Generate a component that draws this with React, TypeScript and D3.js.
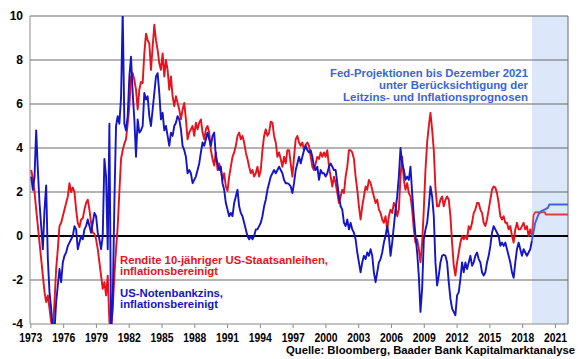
import React from "react";
import * as d3 from "d3";

const W = 580;
const H = 359;

// Monthly-ish readings (regular spacing) from early 1973 to autumn 2018
const histStart = 1973.03;
const histEnd = 2018.85;

// Rendite 10-jähriger US-Staatsanleihen, inflationsbereinigt (%)
const realBondYield = [
  3.0, 2.6, 2.0, 1.2, 0.45, -0.3, -1.05, -1.8, -2.55, -3.0,
  -2.7, -3.3, -3.9, -4.3, -3.0, -1.5, -0.6, 0.45, 0.6, 0.9,
  1.2, 1.5, 1.8, 2.4, 2.0, 2.2, 2.0, 1.2, 0.6, 0.4,
  0.75, 0.8, 1.2, 1.5, 1.65, 1.2, 0.6, 0.15, 0.1, -0.15,
  -0.6, -1.2, -1.8, -2.4, -2.1, -2.7, -1.8, -3.9, -4.3, -3.3,
  -1.8, -0.6, 0.45, 2.0, 3.5, 3.9, 4.2, 4.4, 5.1, 5.9,
  7.25, 7.4, 7.1, 6.65, 5.75, 6.65, 7.0, 6.95, 8.3, 9.2,
  8.9, 8.75, 7.55, 8.6, 9.6, 8.9, 8.45, 7.85, 7.55, 8.3,
  7.25,
  8.0, 7.55, 6.65, 7.25, 6.35, 5.9, 6.35, 6.05, 5.75, 5.3,
  5.75, 6.05, 5.3, 4.4, 4.7, 4.85, 5.0, 4.55, 5.15, 4.85,
  5.15, 5.3, 4.7, 4.4, 4.85, 5.0, 4.7, 3.9, 3.5, 3.2,
  3.8, 3.0, 3.3, 3.0, 2.55, 2.85, 2.25, 2.05, 2.7, 3.15,
  3.6, 3.8, 4.1, 4.55, 4.7, 4.4, 4.55, 4.25, 3.8, 3.5,
  3.15, 2.85, 3.0, 2.7, 2.85, 3.15, 2.7, 3.0, 3.9, 4.55,
  4.85, 4.55, 4.7, 5.2, 5.15, 4.55, 4.25, 3.6, 3.8, 3.5,
  3.15, 3.6, 3.3, 3.9, 3.9, 3.3, 2.7, 3.6, 4.4, 4.55,
  4.25,
  4.1, 4.25, 3.9, 4.15, 4.25, 4.1, 3.6, 3.15, 3.0, 3.3,
  3.6, 3.5, 3.8, 3.6, 3.8, 3.6, 3.9, 3.15, 2.7, 2.25,
  2.7, 2.4, 1.95, 1.5, 1.8, 2.1, 1.95, 2.7, 3.15, 3.9,
  3.9, 3.8, 3.5, 2.7, 2.1, 1.35, 0.75, 1.35, 1.8, 2.25,
  2.1, 2.55, 2.4, 2.1, 1.8, 1.5, 1.65, 1.2, 1.05, 0.75,
  0.6, 0.9, 0.3, 0.9, 1.2, 1.05, 1.5, 1.35, 0.9, 1.2,
  2.7, 3.6, 2.55, 2.1, 2.4, 1.95, 1.8, 1.2, 0.3, -0.3,
  -0.15, -0.6, -1.2, -0.3, 1.2, 3.0, 4.25, 5.0, 5.6, 4.85,
  3.9,
  2.2, 1.35, 1.35, 1.65, 1.8, 1.35, 1.65, 1.8, 1.65, 0.9,
  -0.3, -1.35, -1.8, -1.2, -0.75, -0.3, 0, -0.15, 0, -0.15,
  0.45, 0.3, 0.6, 1.05, 1.2, 1.5, 1.5, 1.2, 1.05, 0.6,
  0.45, 0.75, 1.2, 1.65, 2.1, 2.25, 2.2, 1.95, 1.5, 0.9,
  0.75, 0.9, 0.6, 0.6, 0.3, 0.45, 0, -0.3, 0.3, 0.6,
  0.3, 0.3, 0.45, 0.6, 0.3, 0.45, 0, 0.3, 0,
];

// US-Notenbankzins, inflationsbereinigt (%)
const realFedRate = [
  2.7, 2.1, 2.7, 4.8, 3.0, 1.5, 0.45, -0.6, 1.2, 2.3,
  -1.05, -2.55, -3.3, -4.3, -4.3, -3.0, -2.25, -1.5, -2.1, -1.2,
  -0.9, -0.75, -0.45, -0.3, -0.15, 0, 0.45, 0.3, -0.6, -0.3,
  0, -0.15, 0.3, 0.45, 0.75, 0.45, 0.15, 0.6, 1.05, 0.9,
  0.15, -0.15, -0.6, 0, 3.5, 2.7, -0.6, 5.1, -4.3, -3.0,
  1.5, 5.0, 5.45, 5.1, 6.3, 10.2, 5.1, 4.8, 5.45, 7.25,
  8.15, 6.5, 5.3, 3.6, 5.3, 4.7, 4.8, 5.0, 6.5, 6.2,
  6.35, 5.45, 5.0, 5.75, 6.5, 7.25, 7.4, 6.5, 5.3, 5.6,
  4.8,
  5.0, 4.55, 4.1, 4.7, 4.55, 5.0, 5.15, 5.45, 5.3, 4.85,
  4.1, 3.9, 3.6, 2.85, 3.0, 2.85, 2.4, 2.55, 2.7, 3.0,
  3.3, 3.8, 4.25, 4.1, 4.4, 4.7, 4.4, 4.1, 4.55, 4.7,
  3.6, 3.3, 3.0, 3.15, 2.4, 2.1, 1.5, 1.2, 0.9, 1.05,
  0.9, 1.5, 1.8, 2.1, 1.35, 1.05, 0.9, 0.6, 0.3, 0,
  -0.15, 0, -0.15, 0, 0.3, 0.3, 0.45, 0.6, 0.9, 1.35,
  1.65, 2.1, 2.4, 2.7, 2.85, 3.0, 2.85, 3.0, 3.15, 3.0,
  2.85, 2.55, 2.4, 2.4, 2.35, 2.25, 1.95, 2.4, 3.0, 3.3,
  3.6,
  3.3, 3.6, 3.9, 4.1, 3.9, 3.8, 3.9, 3.6, 3.15, 3.0,
  3.15, 2.55, 3.0, 2.85, 2.85, 2.7, 2.85, 3.15, 3.3, 3.15,
  3.0, 3.0, 2.4, 1.8, 1.35, 1.2, 0.6, 0.45, 0.75, 0.3,
  0.6, 0.3, 0.15, -0.15, -0.75, -1.2, -1.65, -1.2, -0.9, -1.05,
  -0.75, -0.9, -0.6, -0.9, -1.65, -2.1, -1.65, -1.2, -1.05, -0.75,
  -0.3, 0, 0.45, 0, -0.9, -0.3, 0.45, 1.2, 1.8, 2.7,
  4.0, 3.3, 3.0, 2.55, 2.7, 2.55, 3.15, 1.95, 0.9, 0,
  -0.75, -1.8, -3.45, -2.4, -0.15, 0.3, 0.6, 1.35, 2.25, 1.8,
  0.9,
  -1.2, -2.25, -1.8, -1.2, -0.9, -0.85, -0.9, -1.2, -2.1, -2.85,
  -3.3, -3.45, -3.6, -2.7, -2.55, -1.95, -1.2, -1.65, -1.2, -1.5,
  -1.2, -0.9, -1.35, -1.2, -0.9, -0.75, -1.05, -1.2, -1.65, -1.8,
  -1.65, -1.2, -0.9, -0.45, 0.15, 0.45, 0.3, 0.15, 0, -0.45,
  -0.3, -0.45, -0.3, -0.6, -0.9, -1.2, -1.65, -1.9, -1.2, -0.6,
  -0.3, -0.6, -0.9, -0.6, -0.75, -0.9, -0.75, -0.6, -0.2,
];

// Fed projections until December 2021
const redProjYears = [2018.85, 2019.0, 2019.15, 2020.05, 2020.1, 2022.15];
const redProjValues = [0, 0.95, 1.08, 1.08, 0.98, 0.98];
const blueProjYears = [2018.85, 2019.15, 2019.45, 2019.7, 2020.0, 2020.3, 2020.45, 2022.15];
const blueProjValues = [-0.2, 0.6, 0.98, 1.13, 1.2, 1.28, 1.43, 1.43];

const xTickYears = [1973, 1976, 1979, 1982, 1985, 1988, 1991, 1994, 1997, 2000, 2003, 2006, 2009, 2012, 2015, 2018, 2021];
const yTickValues = [-4, -2, 0, 2, 4, 6, 8, 10];
const yGridValues = [-2, 2, 4, 6, 8, 10];
const shadeStartYear = 2018.85;

const fedNoteLines = [
  "Fed-Projektionen bis Dezember 2021",
  "unter Berücksichtigung der",
  "Leitzins- und Inflationsprognosen",
];
const redLabelLines = ["Rendite 10-jähriger US-Staatsanleihen,", "inflationsbereinigt"];
const blueLabelLines = ["US-Notenbankzins,", "inflationsbereinigt"];
const sourceText = "Quelle: Bloomberg, Baader Bank Kapitalmarktanalyse";

const FONT = "'Liberation Sans', Arial, Helvetica, sans-serif";
const RED = "#E8121C";
const BLUE = "#1414C8";
const RED_PROJ = "#DD3C48";
const BLUE_PROJ = "#3C64E0";
const NOTE_BLUE = "#3C64D2";

export default function App() {
  const left = 30, right = 568, top = 16, bottom = 324;
  const x = d3.scaleLinear().domain([1972.92, 2022.15]).range([left, right]);
  const y = d3.scaleLinear().domain([-4, 10]).range([bottom, top]);

  const step = (histEnd - histStart) / (realBondYield.length - 1);
  const toPts = (vals: number[]) => vals.map((v, i) => [histStart + i * step, v] as [number, number]);
  const zip = (ys: number[], vs: number[]) => ys.map((yr, i) => [yr, vs[i]] as [number, number]);

  const line = d3
    .line<[number, number]>()
    .x((d) => x(d[0]))
    .y((d) => y(d[1]));

  const redPath = line(toPts(realBondYield)) || "";
  const bluePath = line(toPts(realFedRate)) || "";
  const redProjPath = line(zip(redProjYears, redProjValues)) || "";
  const blueProjPath = line(zip(blueProjYears, blueProjValues)) || "";

  const fedWidths = [198, 149, 185];
  const redWidths = [208, 98];
  const blueWidths = [103, 98];

  return (
    <svg
      width={W}
      height={H}
      viewBox={`0 0 ${W} ${H}`}
      style={{ position: "absolute", left: 0, top: 0, background: "#fff" }}
      fontFamily={FONT}
      fontWeight="bold"
    >
      <defs>
        <clipPath id="plotClip">
          <rect x={left} y={top} width={right - left} height={bottom - top} />
        </clipPath>
      </defs>
      <rect x={0} y={0} width={W} height={H} fill="#fff" />
      {/* projection shading */}
      <rect
        x={x(shadeStartYear)}
        y={top}
        width={right - x(shadeStartYear)}
        height={bottom - top}
        fill="#DCE8FA"
      />
      {/* gridlines */}
      {yGridValues.map((v) => (
        <line key={v} x1={left} x2={right} y1={y(v)} y2={y(v)} stroke="#6a6a6a" strokeWidth={1} />
      ))}
      {/* axes / frame */}
      <line x1={left} x2={left} y1={top} y2={bottom} stroke="#8a8a8a" strokeWidth={1} />
      <line x1={right} x2={right} y1={top} y2={bottom} stroke="#6a6a6a" strokeWidth={1} />
      <line x1={left} x2={right} y1={bottom} y2={bottom} stroke="#8a8a8a" strokeWidth={1} />
      {xTickYears.map((yr) => (
        <line key={yr} x1={x(yr)} x2={x(yr)} y1={bottom} y2={bottom + 4} stroke="#8a8a8a" strokeWidth={1} />
      ))}
      {/* zero line */}
      <line x1={left} x2={right} y1={y(0)} y2={y(0)} stroke="#000" strokeWidth={2} />

      <g clipPath="url(#plotClip)" fill="none" strokeLinejoin="round">
        <path d={redPath} stroke={RED} strokeWidth={1.9} />
        <path d={bluePath} stroke={BLUE} strokeWidth={1.9} />
        <path d={redProjPath} stroke={RED_PROJ} strokeWidth={1.9} />
        <path d={blueProjPath} stroke={BLUE_PROJ} strokeWidth={1.9} />
      </g>

      {/* y tick labels */}
      {yTickValues.map((v) => (
        <text key={v} x={23} y={y(v)} dy="0.36em" textAnchor="end" fontSize={12} fill="#000">
          {v}
        </text>
      ))}
      {/* x tick labels */}
      {xTickYears.map((yr) => (
        <text
          key={yr}
          x={x(yr)}
          y={342}
          fontSize={12.5}
          fill="#000"
          textAnchor="middle"
          textLength={23}
          lengthAdjust="spacingAndGlyphs"
        >
          {yr}
        </text>
      ))}

      {/* Fed projection note */}
      {fedNoteLines.map((t, i) => (
        <text
          key={i}
          x={528}
          y={77 + i * 12.2}
          fontSize={10.8}
          fill={NOTE_BLUE}
          textAnchor="end"
          textLength={fedWidths[i]}
          lengthAdjust="spacingAndGlyphs"
        >
          {t}
        </text>
      ))}

      {/* series labels */}
      {redLabelLines.map((t, i) => (
        <text
          key={i}
          x={120}
          y={263.5 + i * 11.5}
          fontSize={10.3}
          fill={RED}
          textLength={redWidths[i]}
          lengthAdjust="spacingAndGlyphs"
        >
          {t}
        </text>
      ))}
      {blueLabelLines.map((t, i) => (
        <text
          key={i}
          x={120}
          y={296.5 + i * 11.3}
          fontSize={10.3}
          fill={BLUE}
          textLength={blueWidths[i]}
          lengthAdjust="spacingAndGlyphs"
        >
          {t}
        </text>
      ))}

      {/* source */}
      <text
        x={575}
        y={353.5}
        fontSize={11}
        fill="#000"
        textAnchor="end"
        textLength={289}
        lengthAdjust="spacingAndGlyphs"
      >
        {sourceText}
      </text>
    </svg>
  );
}
